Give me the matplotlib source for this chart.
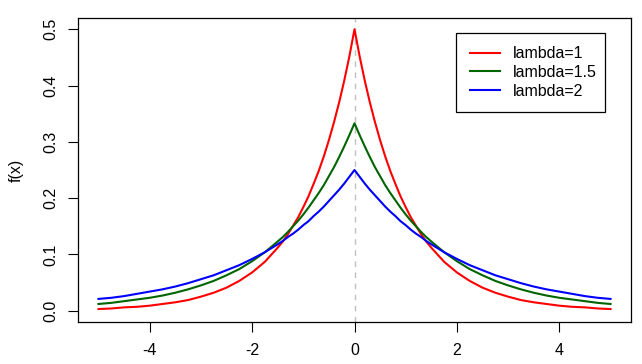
import matplotlib
matplotlib.use("Agg")
import matplotlib.pyplot as plt

plt.rcParams['font.family'] = ['Liberation Sans', 'DejaVu Sans']

# right half of the x grid (curves are symmetric around 0)
half_x = [0.0, 0.1, 0.2, 0.3, 0.4, 0.5, 0.6, 0.7, 0.8, 0.9, 1.0, 1.1, 1.2, 1.3, 1.4, 1.5,
          1.75, 2.0, 2.25, 2.5, 2.75, 3.0, 3.25, 3.5, 3.75, 4.0, 4.25, 4.5, 4.75, 5.0]

half_l1 = [0.5, 0.452, 0.409, 0.370, 0.335, 0.303, 0.274, 0.248, 0.225, 0.203, 0.184,
           0.166, 0.151, 0.136, 0.123, 0.112,
           0.087, 0.068, 0.053, 0.041, 0.032, 0.025, 0.019, 0.015, 0.012, 0.009,
           0.007, 0.006, 0.004, 0.003]
half_l15 = [0.333, 0.312, 0.292, 0.273, 0.255, 0.239, 0.223, 0.209, 0.196, 0.183, 0.171,
            0.160, 0.150, 0.140, 0.131, 0.123,
            0.104, 0.088, 0.074, 0.063, 0.053, 0.045, 0.038, 0.032, 0.027, 0.023,
            0.020, 0.017, 0.014, 0.012]
half_l2 = [0.25, 0.238, 0.226, 0.215, 0.205, 0.195, 0.185, 0.176, 0.168, 0.159, 0.152,
           0.144, 0.137, 0.131, 0.124, 0.118,
           0.104, 0.092, 0.081, 0.072, 0.063, 0.056, 0.049, 0.043, 0.038, 0.034,
           0.030, 0.026, 0.023, 0.021]

x = [-v for v in half_x[:0:-1]] + half_x
y_l1 = half_l1[:0:-1] + half_l1
y_l15 = half_l15[:0:-1] + half_l15
y_l2 = half_l2[:0:-1] + half_l2

labels = ["lambda=1", "lambda=1.5", "lambda=2"]
colors = ["red", "darkgreen", "blue"]

fig = plt.figure(figsize=(6.42, 3.64), dpi=100)
ax = fig.add_axes([78 / 642, 1 - 322 / 364, (631 - 78) / 642, (322 - 18) / 364])

for ys, lab, c in zip([y_l1, y_l15, y_l2], labels, colors):
    ax.plot(x, ys, color=c, lw=1.5, label=lab)

ax.axvline(0, color="#c0c0c0", lw=1, ls=(0, (4, 4)), zorder=0)

ax.set_xlim(-5.4, 5.4)
ax.set_ylim(-0.02, 0.52)
ax.set_xticks([-4, -2, 0, 2, 4])
ax.set_xticklabels(["-4", "-2", "0", "2", "4"])
ax.set_yticks([0.0, 0.1, 0.2, 0.3, 0.4, 0.5])
ax.set_yticklabels(["0.0", "0.1", "0.2", "0.3", "0.4", "0.5"], rotation=90, va="center")
ax.tick_params(labelsize=11.5, length=7, width=0.8, colors="black")
ax.tick_params(axis="x", pad=8)
ax.tick_params(axis="y", pad=7)
ax.set_ylabel("f(x)", fontsize=11.5, labelpad=14)
for s in ax.spines.values():
    s.set_linewidth(0.9)

leg = ax.legend(loc="upper left", bbox_to_anchor=(0.684, 0.951, 0.269, 0.0),
                mode="expand", fontsize=11.5, fancybox=False, framealpha=1,
                edgecolor="black", handlelength=1.9, handletextpad=0.8,
                borderpad=0.85, borderaxespad=0, labelspacing=0.22)
leg.get_frame().set_linewidth(0.9)

fig.savefig("out.png", dpi=100)
